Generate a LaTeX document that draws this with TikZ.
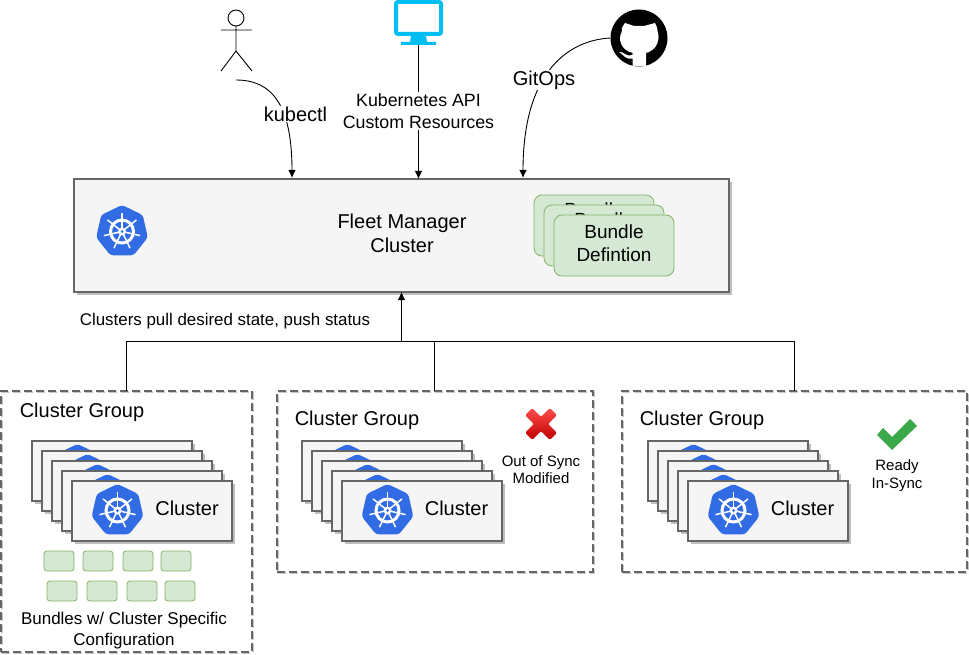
\documentclass[tikz,border=0pt]{standalone}
\usepackage{fontspec}
\setmainfont{Liberation Sans}
\usetikzlibrary{shapes,shapes.geometric,arrows.meta,shadows}
\definecolor{kubeblue}{HTML}{326CE5}
\definecolor{screencyan}{HTML}{00BEF2}
\definecolor{bundlefill}{HTML}{D5E8D4}
\definecolor{bundleline}{HTML}{82B366}
\definecolor{checkgreen}{HTML}{3BA84A}
\newcommand{\fsize}[1]{\fontsize{#1}{#1}\selectfont}
\tikzset{
    kubelogo/.pic={
        \node (-hept) [regular polygon,regular polygon sides=7,minimum size=53pt,inner sep=0pt,
            fill=kubeblue,rounded corners=3pt] at (0,0) {};
        \foreach \a in {0,...,6}
            \draw [white,line width=1.5pt] (0,0) -- ({-90+\a*360/7}:18.5);
        \draw [white,line width=3pt] (0,0) circle (11.5);
        \fill [white] (0,0) circle (4);
        \fill [kubeblue] (0,0) circle (1.5);
    }
}

\begin{document}
\begin{tikzpicture}[x=1pt,y=-1pt,>={Latex[length=8pt,width=7.5pt]},line width=0.9pt]
    \tikzstyle{lbl}=[inner sep=1pt,align=center]
    \tikzstyle{fleetbox}=[rectangle,draw=black!60,line width=2pt,fill=black!4,anchor=north west,outer sep=0pt,
        drop shadow={shadow xshift=3pt,shadow yshift=-3pt,fill=black!25,opacity=1}]
    \tikzstyle{clusterbox}=[fleetbox,minimum width=160.5pt,minimum height=60pt]
    \tikzstyle{bundle}=[rectangle,rounded corners=8pt,draw=bundleline,line width=0.8pt,fill=bundlefill,outer sep=0pt,
        anchor=north west,minimum width=120pt,minimum height=61pt,align=center,font=\fsize{19},text depth=5pt,
        execute at begin node={\baselineskip=23pt}]
    \tikzstyle{minibundle}=[rectangle,rounded corners=3pt,draw=bundleline,line width=0.8pt,fill=bundlefill,outer sep=0pt,
        anchor=north west,minimum width=30pt,minimum height=20pt]
    \tikzstyle{groupbox}=[rectangle,draw=black!60,line width=1.8pt,dash pattern=on 8pt off 4pt,anchor=north west,outer sep=0pt,
        preaction={draw=black!22,transform canvas={shift={(1.2pt,-1.2pt)}}}]

    \useasboundingbox (0,0) rectangle (969,655);

    % top row
    \node (user) [minimum width=31pt,minimum height=61pt,inner sep=0pt] at (236.5,40) {};
    \draw [black] (236,18) circle (8);
    \draw [black] (236,26) -- (236,51) (221,30) -- (252,30) (221,71) -- (236,51) -- (252,71);

    \node (monitor) [minimum width=49pt,minimum height=45pt,inner sep=0pt,outer sep=0pt] at (418.5,22.5) {};
    \draw [screencyan,line width=4pt,rounded corners=2pt,fill=white] (396,2) rectangle (441,34);
    \fill [screencyan] (411,36) -- (426,36) -- (427,42) -- (436,42) -- (436,45) -- (401,45) -- (401,42) -- (410,42) -- cycle;

    \node (github) [circle,fill=black,minimum size=57pt,inner sep=0pt,outer sep=0pt] at (639,38) {};
    \fill [white] (625,23) -- (634,26) -- (644,26) -- (655,23) .. controls (657,27) and (658,30) .. (657.7,32)
        .. controls (660,38) and (658,50) .. (646,53) -- (646,66) -- (632.7,66) -- (632.7,58.5)
        .. controls (625,60) and (623,54) .. (619,52) .. controls (624,51) and (626,58) .. (632.7,54.5)
        -- (632.7,53) .. controls (620,50) and (618,38) .. (621.7,32) .. controls (621,30) and (622,27) .. (625,23) -- cycle;

    % fleet cluster
    \node (fleet) [fleetbox,minimum width=655pt,minimum height=113pt] at (74,179) {};
    \pic (fleetlogo) at (122,231.5) {kubelogo};
    \node (fleetname) [lbl,font=\fsize{20},execute at begin node={\baselineskip=24pt}] at (402,233.5) {Fleet Manager\\Cluster};
    \node (bundlea) [bundle,text depth=8pt] at (534,195) {Bundle\\Defintion};
    \node (bundleb) [bundle,text depth=8pt] at (544,205) {Bundle\\Defintion};
    \node (bundlec) [bundle] at (554,215) {Bundle\\Defintion};

    % cluster groups
    \node (groupa) [groupbox,minimum width=251pt,minimum height=261pt] at (1,391) {};
    \node (groupb) [groupbox,minimum width=316pt,minimum height=181pt] at (277,391) {};
    \node (groupc) [groupbox,minimum width=345pt,minimum height=181pt] at (622,391) {};

    \foreach \i in {0,...,4} {
        \node (clustera\i) [clusterbox] at ({31.5+10*\i},{440.5+10*\i}) {};
        \pic (logoa\i) at ({77.5+10*\i},{470.5+10*\i}) {kubelogo};
        \node (clusterb\i) [clusterbox] at ({301.5+10*\i},{440.5+10*\i}) {};
        \pic (logob\i) at ({347.5+10*\i},{470.5+10*\i}) {kubelogo};
        \node (clusterc\i) [clusterbox] at ({647.5+10*\i},{440.5+10*\i}) {};
        \pic (logoc\i) at ({693.5+10*\i},{470.5+10*\i}) {kubelogo};
    }
    \node (namea) [lbl,font=\fsize{20}] at (187,508) {Cluster};
    \node (nameb) [lbl,font=\fsize{20}] at (456.5,508) {Cluster};
    \node (namec) [lbl,font=\fsize{20}] at (802.5,508) {Cluster};

    \node (titlea) [lbl,font=\fsize{20}] at (82,412) {Cluster Group};
    \node (titleb) [lbl,font=\fsize{20}] at (357,420) {Cluster Group};
    \node (titlec) [lbl,font=\fsize{20}] at (702,420) {Cluster Group};

    \foreach \x [count=\k] in {44,83,123,161}
        \node (minia\k) [minibundle] at (\x,551) {};
    \foreach \x [count=\k] in {47,87,127,165}
        \node (minib\k) [minibundle] at (\x,581) {};
    \node (minitext) [lbl,font=\fsize{17},execute at begin node={\baselineskip=21pt}] at (124,631) {Bundles w/ Cluster Specific\\Configuration};

    % status marks
    \begin{scope}[shift={(541,424)},rotate=45]
        \path [rounded corners=1.5pt,top color=red!70!white,bottom color=red!75!black]
            (-5,-17.5) -- (5,-17.5) -- (5,-5) -- (17.5,-5) -- (17.5,5) -- (5,5) -- (5,17.5)
            -- (-5,17.5) -- (-5,5) -- (-17.5,5) -- (-17.5,-5) -- (-5,-5) -- cycle;
    \end{scope}
    \node (outsync) [lbl,font=\fsize{15},execute at begin node={\baselineskip=17pt}] at (541,470) {Out of Sync\\Modified};
    \fill [checkgreen] (877,435) -- (883,428) -- (892,437) -- (910,419) -- (917,426) -- (892,450) -- cycle;
    \node (insync) [lbl,font=\fsize{15},execute at begin node={\baselineskip=18pt}] at (897,476) {Ready\\In-Sync};

    % connectors
    \coordinate (userout) at (236,80);
    \coordinate (userin) at (292,178);
    \coordinate (gitin) at (523,178);
    \coordinate (bus) at (401.5,341.5);
    \draw [->] (userout) .. controls (272,80) and (292,105) .. (userin);
    \draw [->] (monitor.south) -- (monitor.south |- fleet.north);
    \draw [->] (github.west) .. controls (570,40) and (523,70) .. (gitin);
    \draw [->] (groupa.north) |- (bus) -- (fleet.south);
    \draw ([xshift=-1pt]groupb.north) |- (bus);
    \draw (groupc.north) |- (bus);

    \node (kubectl) [lbl,fill=white,font=\fsize{20}] at (295.5,114) {kubectl};
    \node (kubeapi) [lbl,fill=white,font=\fsize{17.8},execute at begin node={\baselineskip=22pt}] at (418.5,111) {Kubernetes API\\Custom Resources};
    \node (gitops) [lbl,fill=white,font=\fsize{20}] at (544,80) {GitOps};
    \node (pulltext) [lbl,font=\fsize{16.9}] at (225,321) {Clusters pull desired state, push status};
\end{tikzpicture}
\end{document}
